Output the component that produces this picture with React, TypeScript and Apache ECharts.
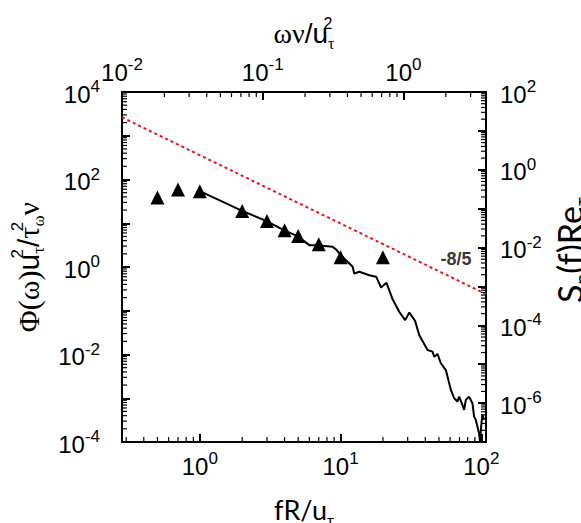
import React, { useEffect, useRef } from "react";
import * as echarts from "echarts";

// Bottom axis fR/u_tau, left axis Phi(omega)...
const lineX = [1, 2, 2.96, 3.95, 4.94, 6.0, 6.7, 8.8, 9.3, 9.8, 10.6, 12.2, 12.5, 13.6, 16.0, 17.9, 19.4, 21.2, 23.4, 26.1, 28.8, 30.8, 33.9, 36.2, 41.5, 45.0, 46.3, 48.8, 51.6, 56.0, 60.8, 64.2, 67.7, 69.6, 73.5, 75.5, 77.6, 81.9, 86.5, 88.9, 91.4, 96.4, 98, 100, 101.8, 104.6];
const lineY = [54, 19.2, 11.3, 6.95, 5.07, 3.16, 3.16, 2.89, 2.52, 2.05, 1.57, 1.01, 0.71, 0.78, 0.65, 0.6, 0.34, 0.435, 0.185, 0.095, 0.061, 0.091, 0.058, 0.0279, 0.0127, 0.0116, 0.0089, 0.0103, 0.0063, 0.0044, 0.00155, 0.001, 0.00084, 0.00109, 0.0007, 0.00054, 0.00091, 0.00109, 0.00077, 0.00038, 0.00032, 0.000158, 0.0001, 0.000245, 0.00042, 0.00032];

const triX = [0.5, 0.7, 1, 2, 3, 4, 5, 7, 10, 20];
const triY = [39, 59, 54, 19, 11.3, 6.9, 5.1, 3.3, 1.66, 1.66];

const refX = [0.28, 108];
const refY = [2630, 0.24];

const slopeLabel = "-8/5";
const slopeLabelPos = [66, 1.55];

const bottomRange = [0.28, 108];
const topRange = [0.01, 3.86];
const leftRange = [1e-4, 1e4];
const rightRange = [1e-7, 1e2];

const minorMultipliers = [2, 3, 4, 5, 6, 7, 8, 9];

const MAJOR_COLOR = "#000";
const MINOR_COLOR = "#000";

function decadeTicks(range: number[], mults: number[]) {
  const out: number[] = [];
  const lo = Math.floor(Math.log10(range[0]));
  const hi = Math.ceil(Math.log10(range[1]));
  for (let e = lo; e <= hi; e++) {
    for (const m of mults) {
      const v = m * Math.pow(10, e);
      if (v > range[0] * 1.0001 && v < range[1] * 0.9999) out.push(v);
    }
  }
  return out;
}

const SANS = "'Liberation Sans', Arial, sans-serif";
const SERIF = "'Liberation Serif', 'Times New Roman', serif";
const NAMEFONT = "Lato, 'Open Sans', sans-serif";

const tickRich = {
  b: { fontSize: 24, fontFamily: SANS, color: "#000", lineHeight: 28, verticalAlign: "bottom" },
  s: { fontSize: 17, fontFamily: SANS, color: "#000", lineHeight: 17, verticalAlign: "top" },
};

function powLabel(evenOnly: boolean) {
  return (v: number) => {
    const l = Math.log10(v);
    const e = Math.round(l);
    if (Math.abs(l - e) > 1e-6) return "";
    if (evenOnly && e % 2 !== 0) return "";
    return `{b|10}{s|${e}}`;
  };
}

const mkTick = () => ({ show: true, inside: true, length: 8, lineStyle: { color: MAJOR_COLOR, width: 2 } });
const mkLine = () => ({ show: true, onZero: false, lineStyle: { color: "#000", width: 2 } });

const nameRichBase = (size: number, sub: number) => ({
  g: { fontSize: size, fontFamily: SERIF, color: "#000", lineHeight: size + 8 },
  n: { fontSize: size, fontFamily: SANS, color: "#000", lineHeight: size + 8 },
  c: { fontSize: size, fontFamily: NAMEFONT, color: "#000", lineHeight: size + 8 },
  sup: { fontSize: sub, fontFamily: SANS, color: "#000", lineHeight: size + 4, verticalAlign: "top", width: 0 },
  sub: { fontSize: sub, fontFamily: SERIF, color: "#000", lineHeight: size + 4, verticalAlign: "bottom" },
  subs: { fontSize: sub, fontFamily: NAMEFONT, color: "#000", lineHeight: size + 4, verticalAlign: "bottom" },
});

export default function App() {
  const ref = useRef<HTMLDivElement>(null);
  useEffect(() => {
    const chart = echarts.init(ref.current!, undefined, { renderer: "svg" });
    const option: any = {
      animation: false,
      backgroundColor: "#fff",
      grid: { left: 122, right: 95, top: 92, bottom: 81, containLabel: false, outerBoundsMode: "none" },
      xAxis: [
        {
          type: "log", position: "bottom", min: bottomRange[0], max: bottomRange[1],
          axisLine: mkLine(), axisTick: mkTick(), splitLine: { show: false },
          axisLabel: { formatter: powLabel(false), rich: tickRich, margin: 8 },
          name: "{c|fR/u}{subs|τ}", nameLocation: "middle", nameGap: 50,
          nameTextStyle: { rich: nameRichBase(27, 15) },
        },
        {
          type: "log", position: "top", min: topRange[0], max: topRange[1],
          axisLine: mkLine(), axisTick: mkTick(), splitLine: { show: false },
          axisLabel: { formatter: powLabel(false), rich: tickRich, margin: 8 },
          name: "{g|ων}{n|/u}{sup|2}{sub|τ}", nameLocation: "middle", nameGap: 40,
          nameTextStyle: { rich: nameRichBase(28, 16) },
        },
      ],
      yAxis: [
        {
          type: "log", position: "left", min: leftRange[0], max: leftRange[1],
          axisLine: mkLine(), axisTick: mkTick(), splitLine: { show: false },
          axisLabel: { formatter: powLabel(true), rich: tickRich, margin: 22 },
          name: "{g|Φ(ω)}{n|u}{sup|2}{sub|τ}{n|/}{g|τ}{sup|2}{sub|ω}{g|ν}", nameLocation: "middle", nameGap: 65, nameRotate: 90,
          nameTextStyle: { rich: nameRichBase(30, 17) },
        },
        {
          type: "log", position: "right", min: rightRange[0], max: rightRange[1],
          axisLine: mkLine(), axisTick: mkTick(), splitLine: { show: false },
          axisLabel: { formatter: powLabel(true), rich: tickRich, margin: 14 },
          name: "{c|S}{subs|p}{c|(f)Re}{subs|τ}", nameLocation: "middle", nameGap: 59, nameRotate: 90,
          nameTextStyle: { rich: nameRichBase(34, 19), padding: [0, 0, 0, 34] },
        },
      ],
      series: [
        {
          type: "line", xAxisIndex: 0, yAxisIndex: 0, showSymbol: false, symbol: "none",
          data: lineX.map((x, i) => [x, lineY[i]]),
          lineStyle: { color: "#000", width: 2 },
        },
        {
          type: "line", xAxisIndex: 0, yAxisIndex: 0, showSymbol: false, symbol: "none",
          data: refX.map((x, i) => [x, refY[i]]),
          lineStyle: { color: "#ee1111", width: 2, type: [3, 3] },
        },
        {
          type: "scatter", xAxisIndex: 0, yAxisIndex: 0, symbol: "triangle", symbolSize: 14,
          itemStyle: { color: "#000", opacity: 1 },
          data: triX.map((x, i) => [x, triY[i]]),
        },
        {
          type: "scatter", xAxisIndex: 0, yAxisIndex: 0, symbolSize: 0, silent: true,
          data: [slopeLabelPos],
          label: { show: true, position: "inside", formatter: slopeLabel, fontSize: 18, fontWeight: "bold", fontFamily: SANS, color: "#000" },
        },
      ],
    };
    chart.setOption(option);

    // log-spaced minor ticks, placed through the axes' own scales
    const px = (xi: number, v: number) => chart.convertToPixel({ xAxisIndex: xi }, v) as number;
    const py = (yi: number, v: number) => chart.convertToPixel({ yAxisIndex: yi }, v) as number;
    const yBottom = py(0, leftRange[0]);
    const yTop = py(1, rightRange[1]);
    const xLeft = px(0, bottomRange[0]);
    const xRight = px(1, topRange[1]);
    const els: any[] = [];
    const specs = [
      { axis: "b", vals: decadeTicks(bottomRange, minorMultipliers) },
      { axis: "t", vals: decadeTicks(topRange, minorMultipliers) },
      { axis: "l", vals: decadeTicks(leftRange, minorMultipliers) },
      { axis: "r", vals: decadeTicks(rightRange, minorMultipliers) },
    ];
    const len = 5;
    for (const s of specs) {
      for (const v of s.vals) {
        let shape: any;
        if (s.axis === "b") { const x = px(0, v); shape = { x1: x, y1: yBottom, x2: x, y2: yBottom - len }; }
        else if (s.axis === "t") { const x = px(1, v); shape = { x1: x, y1: yTop, x2: x, y2: yTop + len }; }
        else if (s.axis === "l") { const y = py(0, v); shape = { x1: xLeft, y1: y, x2: xLeft + len, y2: y }; }
        else { const y = py(1, v); shape = { x1: xRight, y1: y, x2: xRight - len, y2: y }; }
        els.push({ type: "line", silent: true, z: 10, shape, style: { stroke: MINOR_COLOR, lineWidth: 1.2 } });
      }
    }
    chart.setOption({ graphic: { elements: els } });
    return () => chart.dispose();
  }, []);
  return <div ref={ref} style={{ position: "fixed", left: 0, top: 0, width: 581, height: 523, background: "#fff" }} />;
}
